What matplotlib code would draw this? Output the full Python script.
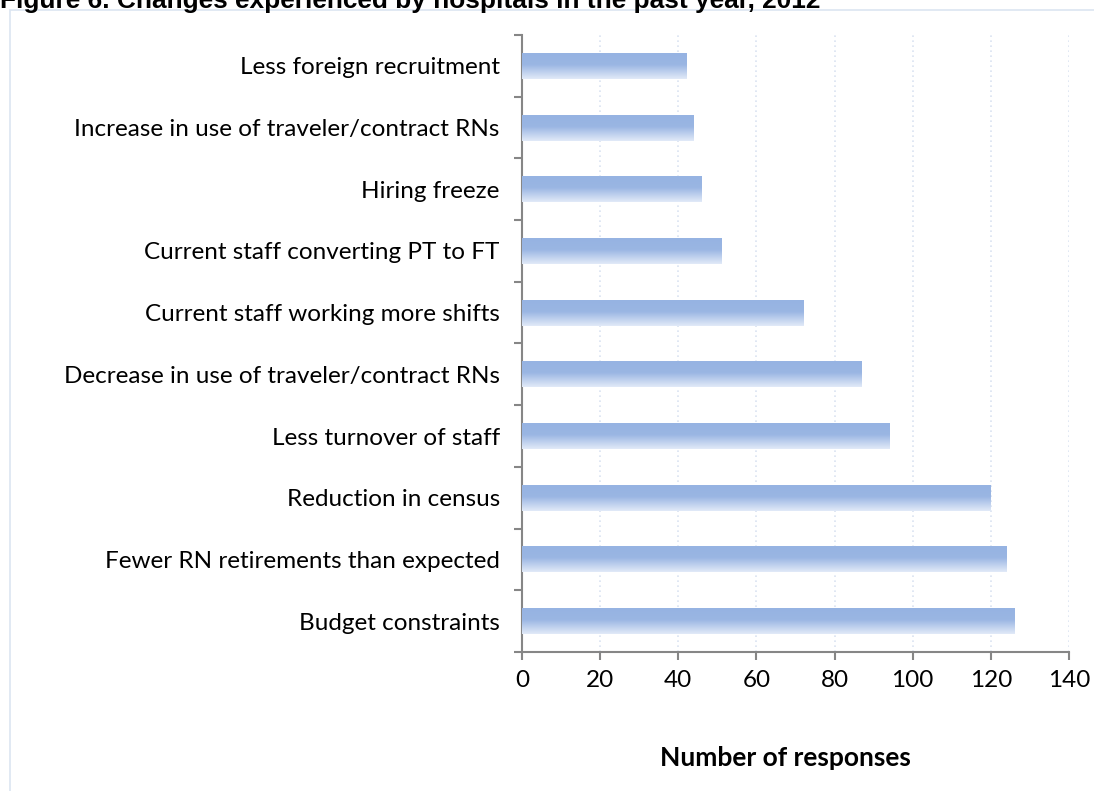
import numpy as np
import matplotlib
matplotlib.use("Agg")
import matplotlib.pyplot as plt
from matplotlib.colors import LinearSegmentedColormap
from matplotlib.patches import Rectangle

categories = [
    "Budget constraints",
    "Fewer RN retirements than expected",
    "Reduction in census",
    "Less turnover of staff",
    "Decrease in use of traveler/contract RNs",
    "Current staff working more shifts",
    "Current staff converting PT to FT",
    "Hiring freeze",
    "Increase in use of traveler/contract RNs",
    "Less foreign recruitment",
]
values = [126, 124, 120, 94, 87, 72, 51, 46, 44, 42]
xticks = [0, 20, 40, 60, 80, 100, 120, 140]
title = "Figure 6. Changes experienced by hospitals in the past year, 2012"
xlabel = "Number of responses"

W, H = 1094, 791
fig = plt.figure(figsize=(W / 100, H / 100), dpi=100)
fig.patch.set_facecolor("white")

LABEL_FONT = ["Lato", "DejaVu Sans"]

# chart-area border
fig.patches.append(Rectangle((10 / W, -0.01), 1.1, 1 - 10 / H + 0.01, transform=fig.transFigure,
                             fill=False, edgecolor="#dbe5f1", linewidth=1.2))

fig.text(0.0, 1 - 8 / H, title, fontsize=18.9, fontweight="bold",
         family="Liberation Sans", va="baseline", ha="left", color="#000000")

ax = fig.add_axes([522 / W, 1 - 652 / H, (1069 - 522) / W, (652 - 35) / H])
ypos = np.arange(len(categories))
bars = ax.barh(ypos, values, height=0.42, color="#9ab5e3", edgecolor="none", zorder=2)

cmap = LinearSegmentedColormap.from_list(
    "g", [(0.0, "#96b3e2"), (0.45, "#9ab6e3"), (1.0, "#e2eaf8")])
grad = np.linspace(0, 1, 256).reshape(-1, 1)
for b in bars:
    x0, y0 = b.get_x(), b.get_y()
    w, h = b.get_width(), b.get_height()
    im = ax.imshow(grad, cmap=cmap, aspect="auto", extent=[x0, x0 + w, y0, y0 + h],
                   origin="upper", zorder=3, interpolation="bilinear")
    im.set_clip_path(b)

ax.set_xlim(0, 140)
ax.set_ylim(-0.5, len(categories) - 0.5)
ax.set_xticks(xticks)
ax.set_xticklabels([str(t) for t in xticks], fontsize=17.5, family=LABEL_FONT)
ax.set_yticks(np.arange(-0.5, len(categories), 1.0))
ax.set_yticklabels([])
ax.set_yticks(ypos, minor=True)
ax.set_yticklabels(categories, minor=True, fontsize=17.5, family=LABEL_FONT)
ax.tick_params(axis="y", which="minor", length=0, pad=16)
ax.tick_params(axis="y", which="major", length=6, width=1.5, color="#868686", direction="out")
ax.tick_params(axis="x", length=6, width=1.5, color="#868686", direction="out", pad=7)

for s in ["top", "right"]:
    ax.spines[s].set_visible(False)
for s in ["left", "bottom"]:
    ax.spines[s].set_color("#868686")
    ax.spines[s].set_linewidth(1.5)

ax.grid(axis="x", linestyle=(0, (1, 2)), color="#dae3f1", linewidth=1.2, zorder=0)
ax.set_axisbelow(True)

fig.text(785 / W, 1 - 758 / H, xlabel, fontsize=19, fontweight="bold",
         family=LABEL_FONT, ha="center", va="center")

fig.savefig("out.png", dpi=100, facecolor="white")
